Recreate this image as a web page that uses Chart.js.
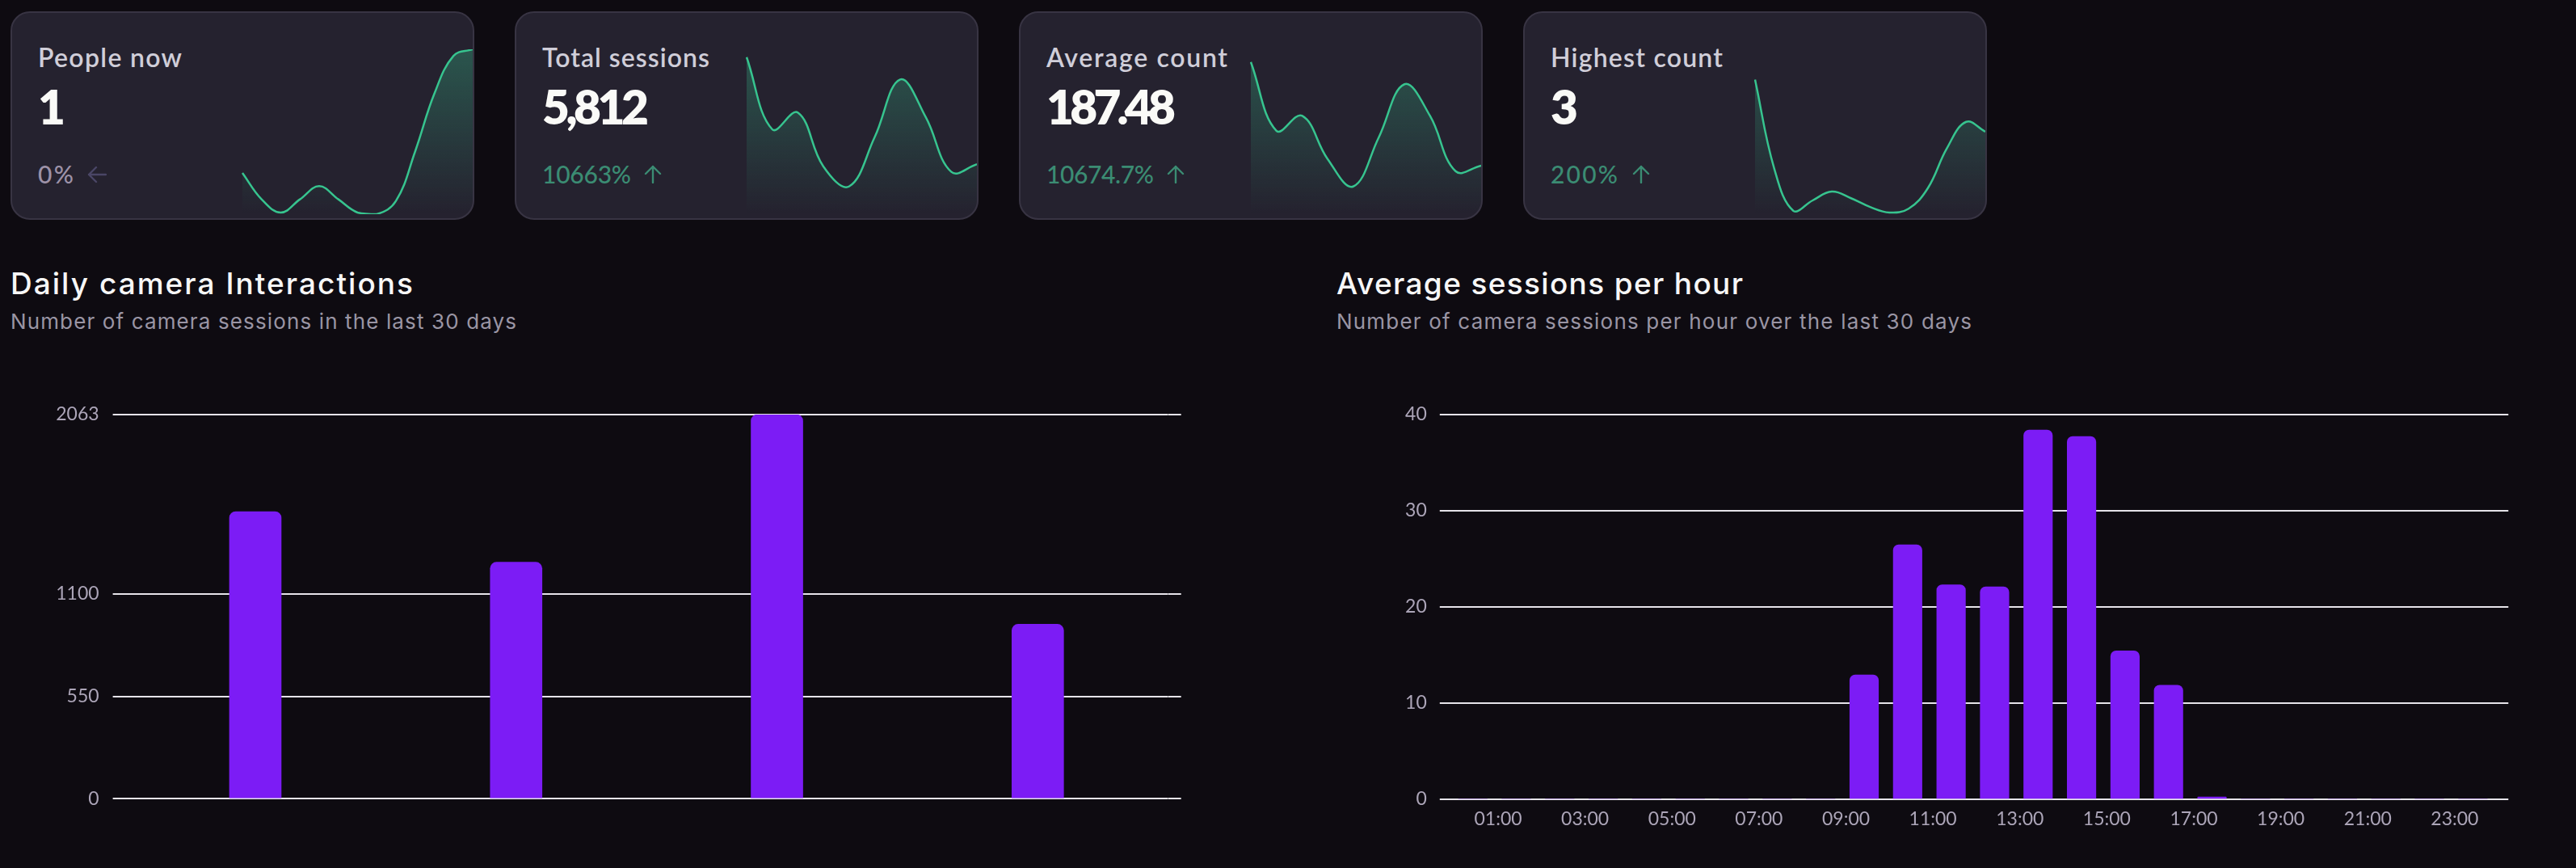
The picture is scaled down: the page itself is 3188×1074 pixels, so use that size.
<!DOCTYPE html>
<html><head><meta charset="utf-8">
<script src="https://cdn.jsdelivr.net/npm/chart.js@4.4.1/dist/chart.umd.min.js"></script>
<style>
html,body{margin:0;padding:0;background:#0e0b11;}
body{width:3188px;height:1074px;position:relative;overflow:hidden;font-family:Lato,'Open Sans',sans-serif;}
.card{position:absolute;top:14px;width:574px;height:258px;box-sizing:border-box;border:2px solid #383443;border-radius:24px;background:#25222f;overflow:hidden;}
.card .t{position:absolute;left:32px;top:38.6px;font-size:32px;line-height:32px;font-weight:600;color:#d0ced9;white-space:nowrap;}
.card .v{position:absolute;left:32px;top:86.2px;font-size:58.5px;line-height:58.5px;font-weight:800;color:#fafaf7;white-space:nowrap;}
.card .p{position:absolute;left:32px;top:184.1px;font-size:30px;line-height:30px;font-weight:500;white-space:nowrap;}
.card .p svg{display:inline-block;vertical-align:baseline;margin-left:15px;}
.card canvas{position:absolute;left:282px;top:39px;}
.up{color:#3b8c73;}
.flat{color:#9d92a8;}
.h{position:absolute;font-family:Inter,Lato,sans-serif;font-size:37px;line-height:37px;font-weight:500;color:#f7f7f7;white-space:nowrap;}
.s{position:absolute;font-family:Inter,Lato,sans-serif;font-size:26px;line-height:26px;font-weight:400;color:#9a95a4;white-space:nowrap;}
.chart{position:absolute;}
</style></head>
<body>

<div class="card" style="left:13px">
  <div class="t"><span data-w="178">People now</span></div>
  <div class="v">1</div>
  <div class="p flat"><span data-w="44">0%</span><svg width="24" height="22" viewBox="0 0 24 22"><path d="M23 11H2M11 2L2 11L11 20" fill="none" stroke="#4a4666" stroke-width="2.4" stroke-linecap="round" stroke-linejoin="round"/></svg></div>
  <canvas id="spark1" width="288" height="216"></canvas>
</div>
<div class="card" style="left:637px">
  <div class="t"><span data-w="207">Total sessions</span></div>
  <div class="v"><span data-w="132">5,812</span></div>
  <div class="p up"><span data-w="110">10663%</span><svg width="24" height="23" viewBox="0 0 24 23"><path d="M12 22V2M3 11L12 2L21 11" fill="none" stroke="#3b8c73" stroke-width="2.4" stroke-linecap="round" stroke-linejoin="round"/></svg></div>
  <canvas id="spark2" width="288" height="216"></canvas>
</div>
<div class="card" style="left:1261px">
  <div class="t"><span data-w="224">Average count</span></div>
  <div class="v"><span data-w="160">187.48</span></div>
  <div class="p up"><span data-w="133">10674.7%</span><svg width="24" height="23" viewBox="0 0 24 23"><path d="M12 22V2M3 11L12 2L21 11" fill="none" stroke="#3b8c73" stroke-width="2.4" stroke-linecap="round" stroke-linejoin="round"/></svg></div>
  <canvas id="spark3" width="288" height="216"></canvas>
</div>
<div class="card" style="left:1885px">
  <div class="t"><span data-w="213">Highest count</span></div>
  <div class="v">3</div>
  <div class="p up"><span data-w="83">200%</span><svg width="24" height="23" viewBox="0 0 24 23"><path d="M12 22V2M3 11L12 2L21 11" fill="none" stroke="#3b8c73" stroke-width="2.4" stroke-linecap="round" stroke-linejoin="round"/></svg></div>
  <canvas id="spark4" width="288" height="216"></canvas>
</div>

<div class="h" style="left:13px;top:332px"><span data-w="498">Daily camera Interactions</span></div>
<div class="s" style="left:13px;top:385.1px"><span data-w="626">Number of camera sessions in the last 30 days</span></div>
<div class="h" style="left:1654px;top:332px"><span data-w="503">Average sessions per hour</span></div>
<div class="s" style="left:1654px;top:385.1px"><span data-w="786">Number of camera sessions per hour over the last 30 days</span></div>

<canvas id="daily" class="chart" style="left:0px;top:472px" width="1480" height="547"></canvas>
<canvas id="hourly" class="chart" style="left:1650px;top:472px" width="1480" height="567"></canvas>

<script>
// ---- data ----
const dailyLabels = ['Day 1', 'Day 2', 'Day 3', 'Day 4'];
const dailySessions = [1542, 1270, 2063, 937];
const dailyTicks = [0, 550, 1100, 2063];

const hourLabels = ['00:00','01:00','02:00','03:00','04:00','05:00','06:00','07:00','08:00','09:00','10:00','11:00',
                    '12:00','13:00','14:00','15:00','16:00','17:00','18:00','19:00','20:00','21:00','22:00','23:00'];
const hourlySessions = [0, 0, 0, 0, 0, 0, 0, 0, 0, 12.93, 26.47, 22.30,
                        22.10, 38.40, 37.73, 15.43, 11.87, 0.25, 0, 0, 0, 0, 0, 0];
const hourlyTicks = [0, 10, 20, 30, 40];

const trendPeopleNow = [0.25, 0.09, 0.01, 0.09, 0.17, 0.09, 0.01, 0.00, 0.08, 0.38, 0.73, 0.96, 1.0];
const trendPeopleMax = 1;
const trendTotalSessions = [2381, 1287, 1540, 723, 420, 1164, 2043, 1471, 641, 756];
const trendTotalMax = 2500;
const trendAverageCount = [92.3, 50.6, 59.7, 33.5, 16.8, 46.6, 78.8, 59.7, 26.1, 29.4];
const trendAverageMax = 100;
const trendHighestCount = [2.45, 0.83, 0.06, 0.25, 0.41, 0.29, 0.13, 0.03, 0.10, 0.47, 1.20, 1.68, 1.50];
const trendHighestMax = 3;

// ---- text width fitting (letter-spacing only) ----
document.querySelectorAll('span[data-w]').forEach(el => {
  const target = parseFloat(el.dataset.w);
  const n = el.textContent.length;
  const w = el.getBoundingClientRect().width;
  if (n > 1) el.style.letterSpacing = ((target - w) / (n - 1)) + 'px';
});

// ---- style ----
const BAR = '#7c1cf5';
const GRID = '#e6e4ea';
const TICK = '#aca5b8';
const LINE = '#37c48f';
Chart.defaults.font.family = 'Lato, "Open Sans", sans-serif';

function barChart(id, labels, values, ticks, o) {
  const yCommon = {
    min: ticks[0], max: ticks[ticks.length - 1],
    afterBuildTicks: s => { s.ticks = ticks.map(v => ({ value: v })); },
    border: { display: false }
  };
  new Chart(document.getElementById(id), {
    type: 'bar',
    data: { labels, datasets: [{ data: values, backgroundColor: BAR, borderRadius: o.radius, borderSkipped: 'start', barThickness: o.barW }] },
    options: {
      responsive: false, animation: false,
      layout: { padding: o.padding },
      plugins: { legend: { display: false }, tooltip: { enabled: false } },
      scales: {
        x: o.x,
        y: Object.assign({}, yCommon, {
          position: 'left',
          grid: { color: GRID, lineWidth: 2, drawTicks: true, tickLength: o.tl },
          ticks: { color: TICK, font: { size: 23 }, padding: o.pad, callback: v => String(v) },
          afterFit: s => { s.width = 100; }
        }),
        y2: Object.assign({}, yCommon, {
          position: 'right',
          grid: { color: GRID, lineWidth: 2, drawOnChartArea: false, drawTicks: true, tickLength: o.tr },
          ticks: { display: false },
          afterFit: s => { s.width = o.tr; }
        })
      }
    }
  });
}

barChart('daily', dailyLabels, dailySessions, dailyTicks, {
  radius: 8, barW: 64, tl: 15, tr: 16, pad: 17,
  padding: { left: 54.6, right: 18.3, top: 41, bottom: 30 },
  x: { display: false }
});

barChart('hourly', hourLabels, hourlySessions, hourlyTicks, {
  radius: 7, barW: 35.5, tl: 14, tr: 17, pad: 16,
  padding: { left: 45.8, right: 25.7, top: 41, bottom: 0 },
  x: {
    grid: { display: false, drawTicks: false },
    border: { display: false },
    ticks: {
      color: TICK, font: { size: 23 }, padding: 11, autoSkip: false, maxRotation: 0, minRotation: 0,
      labelOffset: -22.5,
      callback: function (v, i) { return i % 2 === 1 ? this.getLabelForValue(v) : ''; }
    },
    afterFit: s => { s.height = 50; }
  }
});

function spark(id, values, max) {
  new Chart(document.getElementById(id), {
    type: 'line',
    data: {
      labels: values.map((_, i) => i + 1),
      datasets: [{
        data: values, borderColor: LINE, borderWidth: 2.5, pointRadius: 0, tension: 0.4, fill: 'start',
        backgroundColor: ctx => {
          const ca = ctx.chart.chartArea;
          if (!ca) return 'rgba(0,0,0,0)';
          const g = ctx.chart.ctx.createLinearGradient(0, ca.top, 0, ca.bottom);
          g.addColorStop(0, 'rgba(55,196,143,0.32)');
          g.addColorStop(1, 'rgba(55,196,143,0)');
          return g;
        }
      }]
    },
    options: {
      responsive: false, animation: false,
      layout: { padding: { top: 6, bottom: 6, left: 3, right: 0 } },
      plugins: { legend: { display: false }, tooltip: { enabled: false } },
      scales: { x: { display: false }, y: { display: false, min: 0, max } }
    }
  });
}
spark('spark1', trendPeopleNow, trendPeopleMax);
spark('spark2', trendTotalSessions, trendTotalMax);
spark('spark3', trendAverageCount, trendAverageMax);
spark('spark4', trendHighestCount, trendHighestMax);
</script>
</body></html>
